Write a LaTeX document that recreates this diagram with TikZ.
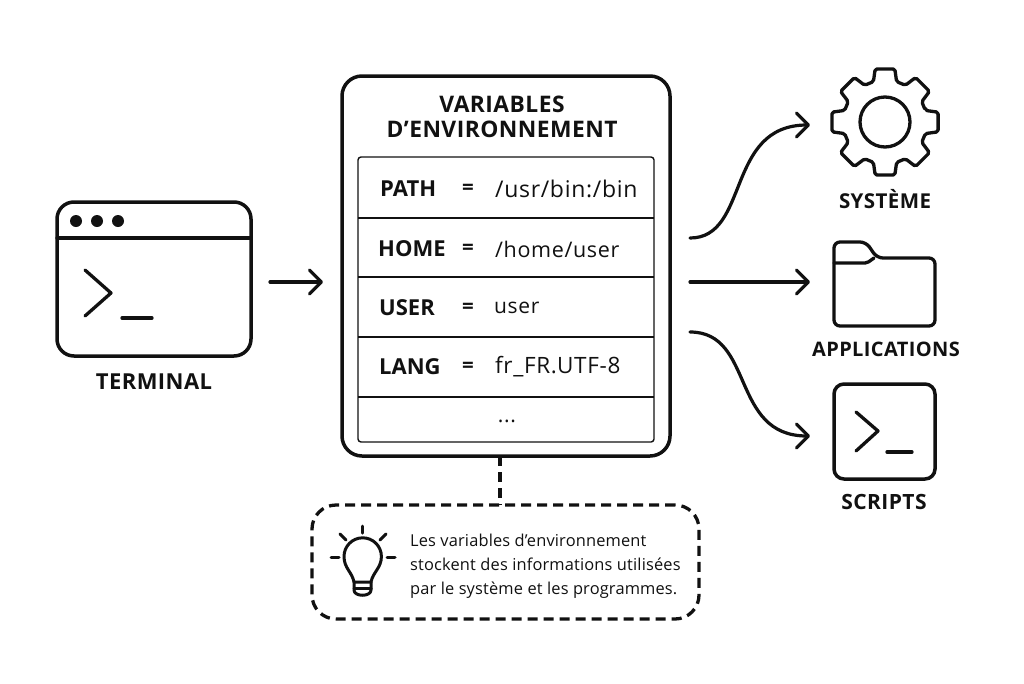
\documentclass[tikz,border=0pt]{standalone}
\usepackage{fontspec}
\setmainfont{Open Sans}
\usetikzlibrary{arrows.meta}
\definecolor{ink}{HTML}{111111}
\newfontfamily\valfont[LetterSpace=3]{Open Sans}
\newfontfamily\notefont[LetterSpace=1]{Open Sans}
\newfontfamily\headfont[LetterSpace=2]{Open Sans}
\tikzset{
  px/.style={x=1pt,y=-1pt},
  icon/.style={draw=ink,line width=3.3pt,line cap=round,line join=round},
  thin rule/.style={draw=ink,line width=1.4pt},
  flow/.style={draw=ink,line width=3.2pt,line cap=round,-{Straight Barb[length=12pt,width=24pt,line width=3.2pt,round]}},
  panel/.style={draw=ink,line width=3.5pt,rounded corners=#1,inner sep=0pt,outer sep=0pt},
  lbl/.style={font=\headfont\fontsize{#1}{20}\selectfont\bfseries,text=ink,inner sep=0pt},
  varkey/.style={font=\fontsize{22}{24}\selectfont\bfseries,text=ink,inner sep=0pt,anchor=west},
  varval/.style={font=\valfont\fontsize{#1}{24}\selectfont,text=ink,inner sep=0pt,anchor=west},
  dashline/.style={draw=ink,line width=3.3pt,dash pattern=on 10pt off 6pt},
}
\begin{document}
\begin{tikzpicture}[px]
\useasboundingbox (0,0) rectangle (1024,683);
\fill[white] (0,0) rectangle (1024,683);

% terminal
\node[panel=17pt,minimum width=194pt,minimum height=154pt] (term) at (154,279) {};
\draw[icon] (57,238) -- (251,238);
\foreach \x in {76,97,118} \fill[ink] (\x,221) circle (6pt);
\draw[icon] (85,270) -- (111,293) -- (85,316);
\draw[icon] (122,318) -- (152,318);
\node[lbl=22] (termlabel) at (154,382) {TERMINAL};

% main panel
\node[panel=20pt,minimum width=328pt,minimum height=380pt] (main) at (506,266) {};
\node[font=\headfont\fontsize{22.8}{25.5}\selectfont\bfseries,text=ink,align=center,inner sep=0pt] (title) at (502,117) {VARIABLES\\D’ENVIRONNEMENT};
\node[draw=ink,line width=1.4pt,rounded corners=3pt,minimum width=296pt,minimum height=285pt,inner sep=0pt,outer sep=0pt] (table) at (506,299.5) {};
\foreach \y in {218,277,337,397} \draw[thin rule] (358,\y) -- (654,\y);
\node[varkey] (k1) at (380,189) {PATH};
\node[varkey] (k2) at (378,249) {HOME};
\node[varkey] (k3) at (379,308) {USER};
\node[varkey] (k4) at (379,367) {LANG};
\foreach \y/\n in {189/1,249/2,308/3,367/4} \node[varkey,font=\fontsize{20.5}{22}\selectfont\bfseries] (e\n) at (462,\y) {=};
\node[varval=23] (v1) at (495,189) {/usr/bin:/bin};
\node[varval=21.5] (v2) at (495,249) {/home/user};
\node[varval=21] (v3) at (494,308) {user};
\node[varval=22.5] (v4) at (495,367) {fr\_FR.UTF-8};
\node[varval=21,anchor=center] (dots) at (507,421) {...};

% connectors
\coordinate (gearin) at (810,125);
\coordinate (folderin) at (810,282);
\coordinate (scriptin) at (810,436);
\draw[flow] ([shift={(19,3)}]term.east) -- ([shift={(-19,16)}]main.west);
\draw[flow] ([shift={(20,-28)}]main.east) .. controls (750,238) and (725,125) .. (gearin);
\draw[flow] ([shift={(20,16)}]main.east) -- (folderin);
\draw[flow] ([shift={(20,66)}]main.east) .. controls (755,332) and (730,436) .. (scriptin);

% gear
\coordinate (gear) at (885,122);
\draw[icon] (gear) circle (25pt);
\draw[icon,rounded corners=1.8pt,shift={(885,122)}]
  (-16:42) \foreach \a in {0,45,...,315} {
    -- (\a-16:42) -- (\a-10.5:54) -- (\a+10.5:54) -- (\a+16:42)
  } -- cycle;
\node[lbl=20.5] (gearlabel) at (885,199) {SYSTÈME};

% folder
\draw[icon,rounded corners=6pt] (834,263) -- (834,242) -- (866,242) -- (877,258) -- (935,258) -- (935,326) -- (834,326) -- cycle;
\draw[icon,rounded corners=2pt] (834,263) -- (867,263) -- (874,258);
\node[lbl=20] (folderlabel) at (886,349) {APPLICATIONS};

% scripts
\node[panel=10pt,minimum width=101pt,minimum height=95pt] (script) at (884.5,431.5) {};
\draw[icon] (856,412) -- (878,431) -- (856,451);
\draw[icon] (887,452) -- (912,452);
\node[lbl=21] (scriptlabel) at (884,502) {SCRIPTS};

% note
\node[dashline,rounded corners=24pt,minimum width=387pt,minimum height=114pt,inner sep=0pt,outer sep=0pt] (note) at (505.5,562) {};
\draw[dashline] ([xshift=-6pt]main.south) -- ([xshift=-5.5pt]note.north);
\node[font=\notefont\fontsize{16.4}{24.2}\selectfont,text=ink,align=left,anchor=west,inner sep=0pt] (notetext) at (410,566) {Les variables d’environnement\\stockent des informations utilisées\\par le système et les programmes.};

% bulb
\draw[icon,line width=3pt] (354,582) .. controls (352,572) and (344,568) .. (344,556.5) arc[start angle=180,end angle=360,radius=18.7] .. controls (381.4,568) and (373,572) .. (371,582) -- cycle;
\draw[icon,line width=3pt] (354,588) -- (371,588);
\draw[icon,line width=3pt] (354,582) -- (354,590) .. controls (354,597) and (371,597) .. (371,590) -- (371,582);
\draw[icon,line width=3pt] (362.7,526) -- (362.7,533);
\draw[icon,line width=3pt] (340,534) -- (346,540);
\draw[icon,line width=3pt] (386,534) -- (380,540);
\draw[icon,line width=3pt] (331,557) -- (339,557);
\draw[icon,line width=3pt] (387,557) -- (395,557);
\end{tikzpicture}
\end{document}
